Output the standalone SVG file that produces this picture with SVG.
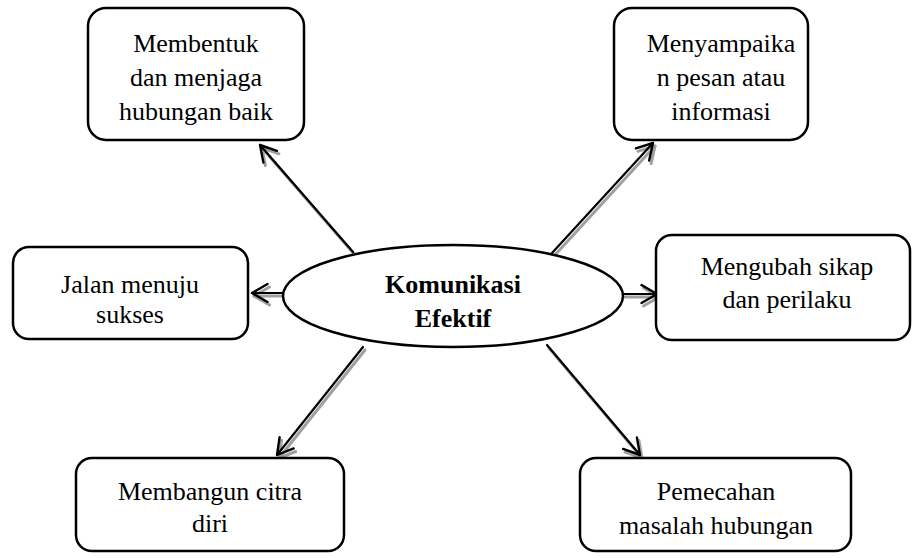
<svg xmlns="http://www.w3.org/2000/svg" width="917" height="558" viewBox="0 0 917 558">
<defs>
<style>
.box{fill:#fff;stroke:#000;stroke-width:2.5}
.t{font-family:"Liberation Serif","Times New Roman",serif;font-size:26px;fill:#000;text-anchor:middle}
.b{font-weight:bold}
.ln{fill:none;stroke:#000;stroke-width:2.2;stroke-linecap:round;stroke-linejoin:round}
.sh{fill:none;stroke:#a0a0a0;stroke-width:3;stroke-linecap:round;stroke-linejoin:round}
</style>
<marker id="ah" markerUnits="userSpaceOnUse" markerWidth="40" markerHeight="40" refX="20" refY="20" orient="auto" overflow="visible">
<path d="M4.5,11 L20,20 L4.5,29" fill="none" stroke="#000" stroke-width="2.4" stroke-linecap="round" stroke-linejoin="round"/>
</marker>
<marker id="ahs" markerUnits="userSpaceOnUse" markerWidth="40" markerHeight="40" refX="20" refY="20" orient="auto" overflow="visible">
<path d="M4.5,11 L20,20 L4.5,29" fill="none" stroke="#a0a0a0" stroke-width="3" stroke-linecap="round" stroke-linejoin="round"/>
</marker>
</defs>
<rect width="917" height="558" fill="#fff"/>
<g id="connectors">
<g id="c1"><line class="sh" x1="355" y1="255" x2="262" y2="148" marker-end="url(#ahs)"/><line class="ln" x1="353" y1="252" x2="260" y2="145" marker-end="url(#ah)"/></g>
<g id="c2"><line class="sh" x1="554" y1="256" x2="655" y2="146" marker-end="url(#ahs)"/><line class="ln" x1="552" y1="253" x2="653" y2="143" marker-end="url(#ah)"/></g>
<g id="c3"><line class="sh" x1="284" y1="296" x2="254" y2="296" marker-end="url(#ahs)"/><line class="ln" x1="282" y1="293" x2="252" y2="293" marker-end="url(#ah)"/></g>
<g id="c4"><line class="sh" x1="625" y1="297" x2="659" y2="297" marker-end="url(#ahs)"/><line class="ln" x1="623" y1="294" x2="657" y2="294" marker-end="url(#ah)"/></g>
<g id="c5"><line class="sh" x1="365" y1="350" x2="279" y2="458" marker-end="url(#ahs)"/><line class="ln" x1="363" y1="347" x2="277" y2="455" marker-end="url(#ah)"/></g>
<g id="c6"><line class="sh" x1="549" y1="348" x2="642" y2="458" marker-end="url(#ahs)"/><line class="ln" x1="547" y1="345" x2="640" y2="455" marker-end="url(#ah)"/></g>
</g>
<g id="center">
<ellipse cx="453" cy="296" rx="170" ry="51" fill="#fff" stroke="#000" stroke-width="2.5"/>
<text class="t b" x="453" y="293">Komunikasi</text>
<text class="t b" x="453" y="327">Efektif</text>
</g>
<g id="n1">
<rect class="box" x="88" y="8" width="216" height="132" rx="18"/>
<text class="t" x="196" y="52">Membentuk</text>
<text class="t" x="196" y="86">dan menjaga</text>
<text class="t" x="196" y="120">hubungan baik</text>
</g>
<g id="n2">
<rect class="box" x="614" y="8" width="194" height="132" rx="18"/>
<text class="t" x="721" y="52">Menyampaika</text>
<text class="t" x="721" y="86">n pesan atau</text>
<text class="t" x="721" y="120">informasi</text>
</g>
<g id="n3">
<rect class="box" x="13" y="247" width="235" height="92" rx="16"/>
<text class="t" x="130" y="293">Jalan menuju</text>
<text class="t" x="130" y="323">sukses</text>
</g>
<g id="n4">
<rect class="box" x="656" y="235" width="254" height="105" rx="16"/>
<text class="t" x="787" y="275">Mengubah sikap</text>
<text class="t" x="787" y="308">dan perilaku</text>
</g>
<g id="n5">
<rect class="box" x="76" y="458" width="268" height="93" rx="16"/>
<text class="t" x="210" y="500">Membangun citra</text>
<text class="t" x="210" y="532">diri</text>
</g>
<g id="n6">
<rect class="box" x="580" y="458" width="271" height="93" rx="16"/>
<text class="t" x="716" y="500">Pemecahan</text>
<text class="t" x="716" y="534">masalah hubungan</text>
</g>
</svg>
